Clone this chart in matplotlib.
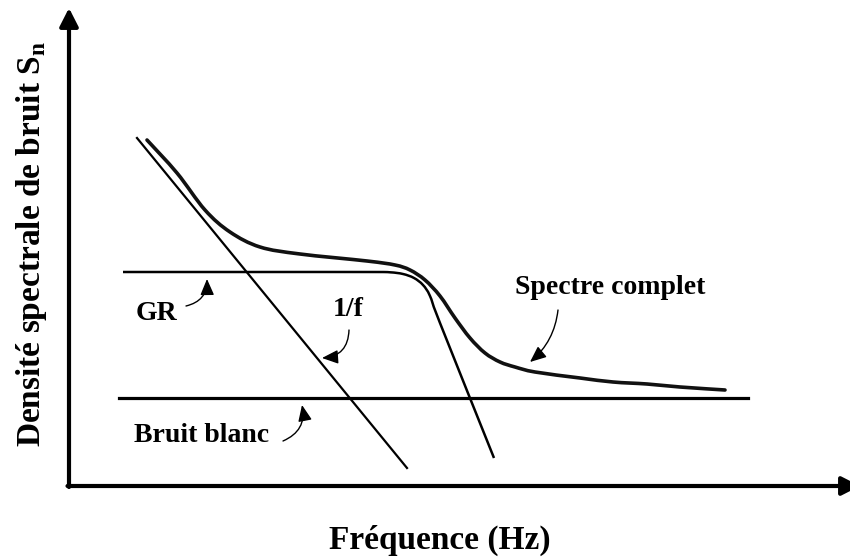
import matplotlib
matplotlib.use("Agg")
import matplotlib.pyplot as plt
from matplotlib.path import Path
from matplotlib.patches import PathPatch

plt.rcParams['font.family'] = ['Liberation Serif', 'DejaVu Serif']
plt.rcParams['mathtext.fontset'] = 'custom'
plt.rcParams['mathtext.rm'] = 'Liberation Serif'
plt.rcParams['mathtext.bf'] = 'Liberation Serif:bold'

# Schematic coordinates (canvas units, y downward)
spectrum_x = [147, 177, 205, 230, 260, 300, 367, 395, 410, 425, 440, 455, 470, 485, 500, 515, 535, 580, 613, 647, 680, 725]
spectrum_y = [140, 173, 210, 232, 247, 254, 261, 265, 270, 280, 296, 318, 338, 353, 362, 367, 372, 378, 382, 384, 387, 390]

gr_x = [123, 250, 370, 390, 403, 414, 423, 430, 440, 494]
gr_y = [272, 272, 272, 272.3, 274, 278, 285, 296, 323, 458]

one_over_f_x = [137, 407]
one_over_f_y = [138, 468]

white_x = [119, 748]
white_y = [398, 398]

origin = (69, 487)
y_tip = (69, 8)
x_tip = (860, 486)

labels = ["GR", "1/f", "Bruit blanc", "Spectre complet"]
label_pos = [(156, 313), (348, 310), (202, 435), (610, 288)]
arrow_tail = [(186, 306), (349, 330), (283, 441), (558, 310)]
arrow_tip = [(207, 279), (322, 358), (302, 405), (530, 362)]
arrow_rad = [0.4, -0.45, 0.4, -0.2]


def smooth_path(xs, ys):
    """Catmull-Rom through the points, expressed as cubic Bezier segments."""
    pts = list(zip(xs, ys))
    verts = [pts[0]]
    codes = [Path.MOVETO]
    n = len(pts)
    for i in range(n - 1):
        p0 = pts[i - 1] if i > 0 else pts[i]
        p1 = pts[i]
        p2 = pts[i + 1]
        p3 = pts[i + 2] if i + 2 < n else pts[i + 1]
        c1 = (p1[0] + (p2[0] - p0[0]) / 6.0, p1[1] + (p2[1] - p0[1]) / 6.0)
        c2 = (p2[0] - (p3[0] - p1[0]) / 6.0, p2[1] - (p3[1] - p1[1]) / 6.0)
        verts += [c1, c2, p2]
        codes += [Path.CURVE4] * 3
    return Path(verts, codes)


fig = plt.figure(figsize=(8.5, 5.59), dpi=100)
ax = fig.add_axes([0, 0, 1, 1])
ax.set_xlim(0, 850)
ax.set_ylim(559, 0)
ax.axis('off')

# axes arrows
ax.annotate('', xy=y_tip, xytext=origin, annotation_clip=False,
            arrowprops=dict(arrowstyle='-|>,head_length=0.55,head_width=0.28',
                            lw=3, color='black', mutation_scale=20,
                            shrinkA=0, shrinkB=0))
ax.annotate('', xy=x_tip, xytext=(origin[0] - 1.5, origin[1] - 1), annotation_clip=False,
            arrowprops=dict(arrowstyle='-|>,head_length=0.55,head_width=0.28',
                            lw=3, color='black', mutation_scale=20,
                            shrinkA=0, shrinkB=0))

ax.plot(one_over_f_x, one_over_f_y, color='black', lw=1.6)
ax.plot(white_x, white_y, color='black', lw=2.3)
ax.add_patch(PathPatch(smooth_path(gr_x, gr_y), fill=False, edgecolor='black',
                       lw=1.8, joinstyle='round'))
ax.add_patch(PathPatch(smooth_path(spectrum_x, spectrum_y), fill=False,
                       edgecolor='#111111', lw=2.6, joinstyle='round',
                       capstyle='round'))

for lab, pos, tail, tip, rad in zip(labels, label_pos, arrow_tail, arrow_tip, arrow_rad):
    ax.text(pos[0], pos[1], lab, fontsize=20, fontweight='bold',
            ha='center', va='center')
    ax.annotate('', xy=tip, xytext=tail,
                arrowprops=dict(arrowstyle='-|>,head_length=0.7,head_width=0.3',
                                lw=1.0, color='black', mutation_scale=14,
                                shrinkA=0, shrinkB=0,
                                connectionstyle=f'arc3,rad={rad}'))

ax.text(32, 244, r'Densité spectrale de bruit $\mathbf{S}_\mathbf{n}$',
        rotation=90, fontsize=24, fontweight='bold', ha='center', va='center')
ax.text(440, 540, 'Fréquence (Hz)', fontsize=24, fontweight='bold',
        ha='center', va='center')

fig.savefig('out.png', dpi=100)
